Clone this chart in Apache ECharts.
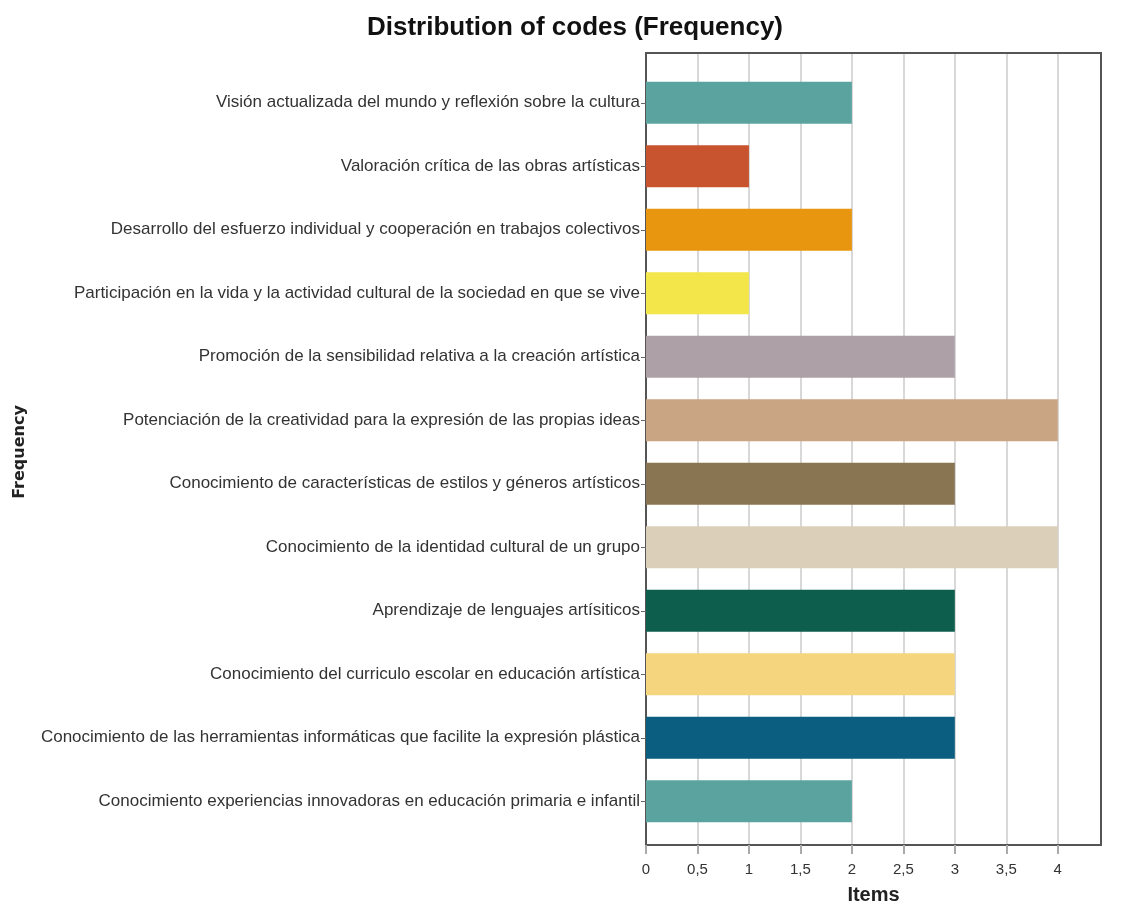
<!DOCTYPE html>
<html>
<head>
<meta charset="utf-8">
<script src="https://cdn.jsdelivr.net/npm/echarts@6/dist/echarts.min.js"></script>
<style>html,body{margin:0;padding:0;background:#fff;}#c{width:1122px;height:904px;}</style>
</head>
<body>
<div id="c"></div>
<script>
const categories = [
  "Visión actualizada del mundo y reflexión sobre la cultura",
  "Valoración crítica de las obras artísticas",
  "Desarrollo del esfuerzo individual y cooperación en trabajos colectivos",
  "Participación en la vida y la actividad cultural de la sociedad en que se vive",
  "Promoción de la sensibilidad relativa a la creación artística",
  "Potenciación de la creatividad para la expresión de las propias ideas",
  "Conocimiento de características de estilos y géneros artísticos",
  "Conocimiento de la identidad cultural de un grupo",
  "Aprendizaje de lenguajes artísiticos",
  "Conocimiento del curriculo escolar en educación artística",
  "Conocimiento de las herramientas informáticas que facilite la expresión plástica",
  "Conocimiento experiencias innovadoras en educación primaria e infantil"
];
const values = [2, 1, 2, 1, 3, 4, 3, 4, 3, 3, 3, 2];
const colors = ["#5ba39f", "#c8532f", "#e8960f", "#f2e64a", "#ada0a6", "#c9a583",
                "#8a7552", "#dccfb9", "#0e5e4e", "#f5d67e", "#0b5e80", "#5ba39f"];
const xTicks = ["0", "0,5", "1", "1,5", "2", "2,5", "3", "3,5", "4"];

const chart = echarts.init(document.getElementById('c'));
const labelFont = '"Liberation Sans", sans-serif';
const frameLine = { show: true, onZero: false, lineStyle: { color: '#555', width: 2 } };
chart.setOption({
  backgroundColor: '#fff',
  animation: false,
  title: {
    text: 'Distribution of codes (Frequency)',
    left: 570, top: 10, textAlign: 'center',
    textStyle: { fontFamily: labelFont, fontWeight: 'bold', fontSize: 26, color: '#111' }
  },
  grid: [
    { left: 646, right: 21, top: 53, bottom: 59, outerBoundsMode: 'none', containLabel: false,
      show: true, borderColor: '#555', borderWidth: 2, backgroundColor: 'transparent' },
    { left: 646, right: 21, top: 71, bottom: 71, outerBoundsMode: 'none', containLabel: false }
  ],
  xAxis: [
    {
      gridIndex: 0, type: 'value', min: 0, max: 4.42, interval: 0.5, position: 'bottom',
      name: 'Items', nameLocation: 'middle', nameGap: 40,
      nameTextStyle: { fontFamily: labelFont, fontWeight: 'bold', fontSize: 20, color: '#222' },
      axisLine: frameLine,
      axisTick: { show: true, length: 9, lineStyle: { color: '#aaa', width: 2 } },
      axisLabel: {
        showMaxLabel: false, margin: 17, fontFamily: labelFont, fontSize: 15, color: '#333',
        formatter: function (v) { const i = Math.round(v * 2); return xTicks[i] !== undefined ? xTicks[i] : ''; }
      },
      splitLine: { show: true, lineStyle: { color: '#d8d8d8', width: 2 } }
    },
    { gridIndex: 0, type: 'value', min: 0, max: 4.42, position: 'top', axisLine: frameLine,
      axisTick: { show: false }, axisLabel: { show: false }, splitLine: { show: false } },
    { gridIndex: 1, type: 'value', min: 0, max: 4.42, show: false, splitLine: { show: false } }
  ],
  yAxis: [
    { gridIndex: 0, type: 'value', min: 0, max: 1, position: 'left', axisLine: frameLine,
      axisTick: { show: false }, axisLabel: { show: false }, splitLine: { show: false } },
    { gridIndex: 0, type: 'value', min: 0, max: 1, position: 'right', axisLine: frameLine,
      axisTick: { show: false }, axisLabel: { show: false }, splitLine: { show: false } },
    {
      gridIndex: 1, type: 'category', inverse: true, data: categories,
      name: 'Frequency', nameLocation: 'middle', nameGap: 618, nameRotate: 90,
      nameTextStyle: { fontFamily: '"DejaVu Sans", sans-serif', fontWeight: 'bold', fontSize: 16, color: '#222' },
      axisLine: { show: false },
      axisTick: { show: true, alignWithLabel: true, length: 5, lineStyle: { color: '#666' } },
      axisLabel: { margin: 6, fontFamily: labelFont, fontSize: 17, color: '#333' },
      splitLine: { show: false }
    }
  ],
  series: [{
    type: 'bar', xAxisIndex: 2, yAxisIndex: 2, barWidth: 42, z: 3,
    data: values.map((v, i) => ({ value: v, itemStyle: { color: colors[i] } }))
  }]
});
</script>
</body>
</html>
